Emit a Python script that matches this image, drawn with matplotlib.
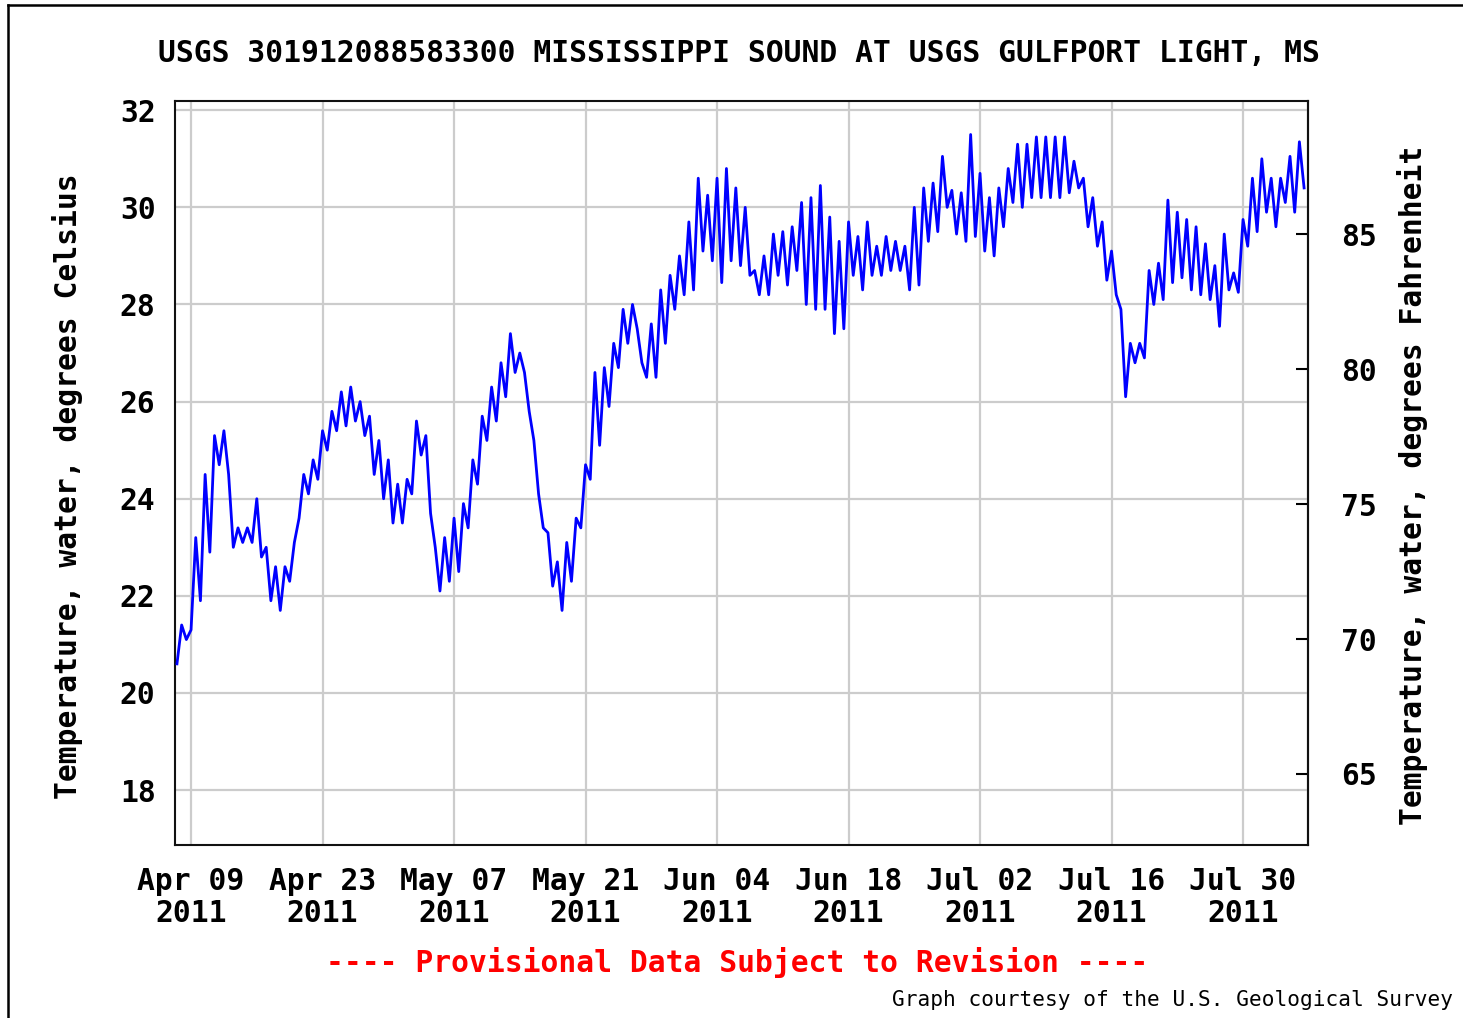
import matplotlib.pyplot as plt
import numpy as np
import pandas as pd
from matplotlib.lines import Line2D

OUT = "out.png"

# half-day readings (deg C), starting 2011-04-07 12:00, one value every 12 h
START = "2011-04-07 12:00"
TEMP_APR = [
    20.6, 21.4, 21.1, 21.3, 23.2, 21.9, 24.5, 22.9, 25.3, 24.7,
    25.4, 24.5, 23.0, 23.4, 23.1, 23.4, 23.1, 24.0, 22.8, 23.0,
    21.9, 22.6, 21.7, 22.6, 22.3, 23.1, 23.6, 24.5, 24.1, 24.8,
    24.4, 25.4, 25.0, 25.8, 25.4, 26.2, 25.5, 26.3, 25.6, 26.0,
    25.3, 25.7, 24.5, 25.2, 24.0, 24.8, 23.5,
]
TEMP_MAY = [
    24.3, 23.5, 24.4, 24.1, 25.6, 24.9, 25.3, 23.7, 23.0, 22.1,
    23.2, 22.3, 23.6, 22.5, 23.9, 23.4, 24.8, 24.3, 25.7, 25.2,
    26.3, 25.6, 26.8, 26.1, 27.4, 26.6, 27.0, 26.6, 25.8, 25.2,
    24.1, 23.4, 23.3, 22.2, 22.7, 21.7, 23.1, 22.3, 23.6, 23.4,
    24.7, 24.4, 26.6, 25.1, 26.7, 25.9, 27.2, 26.7, 27.9, 27.2,
    28.0, 27.5, 26.8, 26.5, 27.6, 26.5, 28.3, 27.2, 28.6, 27.9,
    29.0, 28.2,
]
TEMP_JUN = [
    29.7, 28.3, 30.6, 29.1, 30.25, 28.9, 30.6, 28.45, 30.8, 28.9,
    30.4, 28.8, 30.0, 28.6, 28.7, 28.2, 29.0, 28.2, 29.45, 28.6,
    29.5, 28.4, 29.6, 28.7, 30.1, 28.0, 30.2, 27.9, 30.45, 27.9,
    29.8, 27.4, 29.3, 27.5, 29.7, 28.6, 29.4, 28.3, 29.7, 28.6,
    29.2, 28.6, 29.4, 28.7, 29.3, 28.7, 29.2, 28.3, 30.0, 28.4,
    30.4, 29.3, 30.5, 29.5, 31.05, 30.0, 30.35, 29.45, 30.3, 29.3,
]
TEMP_JUL = [
    31.5, 29.4, 30.7, 29.1, 30.2, 29.0, 30.4, 29.6, 30.8, 30.1,
    31.3, 30.0, 31.3, 30.2, 31.45, 30.2, 31.45, 30.2, 31.45, 30.2,
    31.45, 30.3, 30.95, 30.4, 30.6, 29.6, 30.2, 29.2, 29.7, 28.5,
    29.1, 28.2, 27.9, 26.1, 27.2, 26.8, 27.2, 26.9, 28.7, 28.0,
    28.85, 28.1, 30.15, 28.45, 29.9, 28.55, 29.75, 28.3, 29.6, 28.2,
    29.25, 28.1, 28.8, 27.55, 29.45, 28.3, 28.65, 28.25, 29.75, 29.2,
    30.6, 29.5,
]
TEMP_AUG = [31.0, 29.9, 30.6, 29.6, 30.6, 30.1, 31.05, 29.9, 31.35, 30.4]

TICK_DATES = ["2011-04-09", "2011-04-23", "2011-05-07", "2011-05-21", "2011-06-04",
              "2011-06-18", "2011-07-02", "2011-07-16", "2011-07-30"]
C_TICKS = [18, 20, 22, 24, 26, 28, 30, 32]
F_TICKS = [65, 70, 75, 80, 85]

TITLE = "USGS 301912088583300 MISSISSIPPI SOUND AT USGS GULFPORT LIGHT, MS"
FONT = "DejaVu Sans Mono"
FS = 21.3
GRID = "#cccccc"

temps = np.array(TEMP_APR + TEMP_MAY + TEMP_JUN + TEMP_JUL + TEMP_AUG)
times = pd.date_range(START, periods=len(temps), freq="12h")

W, H = 1463, 1018
fig = plt.figure(figsize=(W / 100, H / 100), dpi=100)
ax = fig.add_axes([175 / W, 1 - 845 / H, (1308 - 175) / W, (845 - 101) / H])

ax.plot(times, temps, color="#0000ff", linewidth=2.0, zorder=3)

ax.set_xlim(pd.Timestamp("2011-04-07 07:00"), pd.Timestamp("2011-08-05 22:00"))
ax.set_ylim(16.87, 32.19)

ticks = pd.to_datetime(TICK_DATES)
ax.set_xticks(ticks)
ax.set_xticklabels([t.strftime("%b %d\n%Y") for t in ticks])
ax.set_yticks(C_TICKS)
ax.grid(True, color=GRID, linewidth=1.6, zorder=0)
ax.set_axisbelow(True)

for sp in ax.spines.values():
    sp.set_linewidth(1.5)
    sp.set_color("#111111")

ax.tick_params(axis="x", length=0, pad=16, labelsize=FS)
ax.tick_params(axis="y", length=0, pad=14, labelsize=FS)
for lab in ax.get_xticklabels() + ax.get_yticklabels():
    lab.set_family(FONT)
    lab.set_weight("bold")
for lab in ax.get_xticklabels():
    lab.set_linespacing(1.1)

sec = ax.secondary_yaxis("right", functions=(lambda c: c * 9 / 5 + 32,
                                             lambda f: (f - 32) * 5 / 9))
sec.set_yticks(F_TICKS)
sec.tick_params(direction="in", length=9, width=1.5, pad=24, labelsize=FS)
sec.spines["right"].set_linewidth(1.5)
for lab in sec.get_yticklabels():
    lab.set_family(FONT)
    lab.set_weight("bold")

txt = dict(family=FONT, weight="bold", fontsize=FS)
fig.text(739 / W, 1 - 53 / H, TITLE, ha="center", va="center", **txt)
fig.text(68 / W, 1 - 486 / H, "Temperature, water, degrees Celsius",
         rotation=90, ha="center", va="center", **txt)
fig.text(1412 / W, 1 - 485 / H, "Temperature, water, degrees Fahrenheit",
         rotation=90, ha="center", va="center", **txt)
fig.text(737 / W, 1 - 962 / H, "---- Provisional Data Subject to Revision ----",
         ha="center", va="center", color="#ff0000", **txt)
fig.text(1453 / W, 1 - 1000 / H, "Graph courtesy of the U.S. Geological Survey",
         ha="right", va="center", family=FONT, fontsize=15.2)

# outer frame (only left and top edges fall inside the picture)
fig.add_artist(Line2D([8 / W, 8 / W], [0, 1 - 5 / H], color="black", linewidth=1.8))
fig.add_artist(Line2D([8 / W, 1], [1 - 5 / H, 1 - 5 / H], color="black", linewidth=1.8))

fig.savefig(OUT, dpi=100)
